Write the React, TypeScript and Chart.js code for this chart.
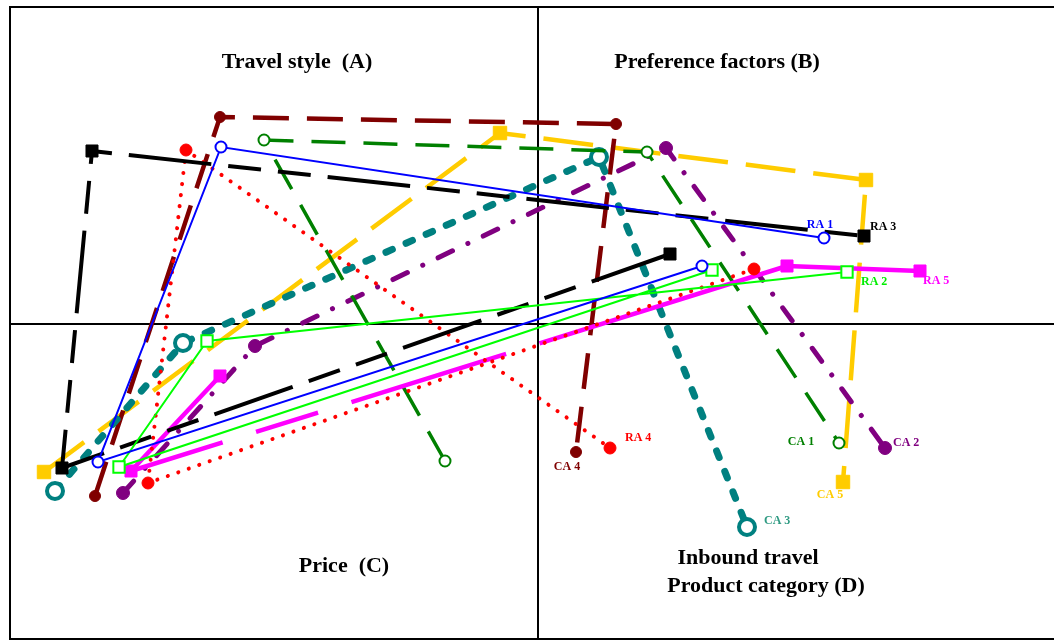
import React, { useEffect, useRef } from "react";
import { Chart, registerables } from "chart.js";

Chart.register(...registerables);

// ---- data (dimension scores) ----
const ra1X = [1.64, -4.4, -3.17, 2.86];
const ra1Y = [0.58, -1.38, 1.77, 0.86];
const ra2X = [1.74, -4.19, -3.31, 3.09];
const ra2Y = [0.54, -1.43, -0.17, 0.52];
const ra3X = [1.32, -4.76, -4.46, 3.26];
const ra3Y = [0.7, -1.44, 1.73, 0.88];
const ra4X = [2.16, -3.9, -3.52, 0.72];
const ra4Y = [0.55, -1.59, 1.74, -1.24];
const ra5X = [-3.18, -4.07, 2.49, 3.82];
const ra5Y = [-0.52, -1.47, 0.58, 0.53];
const ca1X = [-0.93, -2.74, 1.09, 3.01];
const ca1Y = [-1.37, 1.84, 1.72, -1.19];
const ca2X = [-4.15, -2.83, 1.28, 3.47];
const ca2Y = [-1.69, -0.22, 1.76, -1.24];
const ca3X = [-4.83, -3.55, 0.61, 2.09];
const ca3Y = [-1.67, -0.19, 1.67, -2.03];
const ca4X = [-4.43, -3.18, 0.78, 0.38];
const ca4Y = [-1.72, 2.07, 2.0, -1.28];
const ca5X = [-4.94, -0.38, 3.28, 3.05];
const ca5Y = [-1.48, 1.91, 1.44, -1.58];

const seriesNames = ["RA 1", "RA 2", "RA 3", "RA 4", "RA 5", "CA 1", "CA 2", "CA 3", "CA 4", "CA 5"];

const quadrantTitles = ["Travel style  (A)", "Preference factors (B)", "Price  (C)", "Inbound travel", "Product category (D)"];
const quadrantX = [-2.41, 1.79, -1.94, 2.1, 2.28];
const quadrantY = [2.62, 2.62, -2.42, -2.34, -2.62];

// ---- styles ----
type Style = {
  color: string;
  width: number;
  dash: number[];
  cap: CanvasLineCap;
  point: "circle" | "rect";
  radius: number;
  open: boolean;
  pbw: number;
  lx: number;
  ly: number;
  align: CanvasTextAlign;
};

const styles: Style[] = [
  { color: "#0000FF", width: 2, dash: [], cap: "butt", point: "circle", radius: 5.5, open: true, pbw: 2, lx: -4, ly: -13, align: "center" },
  { color: "#00FF00", width: 2, dash: [], cap: "butt", point: "rect", radius: 8, open: true, pbw: 2, lx: 14, ly: 10, align: "left" },
  { color: "#000000", width: 4, dash: [83, 17, 33, 17, 33, 17], cap: "butt", point: "rect", radius: 8.5, open: false, pbw: 1, lx: 6, ly: -9, align: "left" },
  { color: "#FF0000", width: 4, dash: [0.1, 11], cap: "round", point: "circle", radius: 6, open: false, pbw: 1, lx: 15, ly: -10, align: "left" },
  { color: "#FF00FF", width: 4.5, dash: [], cap: "butt", point: "rect", radius: 8.5, open: false, pbw: 1, lx: 3, ly: 10, align: "left" },
  { color: "#008000", width: 3.5, dash: [34, 18], cap: "butt", point: "circle", radius: 5.5, open: true, pbw: 2, lx: -38, ly: -1, align: "center" },
  { color: "#800080", width: 5, dash: [16, 17, 0.1, 17], cap: "round", point: "circle", radius: 6.5, open: false, pbw: 1, lx: 8, ly: -5, align: "left" },
  { color: "#008080", width: 7, dash: [7, 15], cap: "round", point: "circle", radius: 8, open: true, pbw: 4, lx: 17, ly: -6, align: "left" },
  { color: "#800000", width: 4.5, dash: [36, 18], cap: "butt", point: "circle", radius: 5.5, open: false, pbw: 1, lx: -9, ly: 15, align: "center" },
  { color: "#FFCC00", width: 4.5, dash: [50, 18], cap: "butt", point: "rect", radius: 9.5, open: false, pbw: 1, lx: -13, ly: 13, align: "center" },
];

const labelColors = ["#0000FF", "#00EE00", "#000000", "#FF0000", "#FF00FF", "#008000", "#800080", "#2E9A82", "#800000", "#FFCC00"];

const allX = [ra1X, ra2X, ra3X, ra4X, ra5X, ca1X, ca2X, ca3X, ca4X, ca5X];
const allY = [ra1Y, ra2Y, ra3Y, ra4Y, ra5Y, ca1Y, ca2Y, ca3Y, ca4Y, ca5Y];

const ra5SegmentDash = [96, 35, 65, 35, 162, 35, 2000];

export default function App() {
  const ref = useRef<HTMLCanvasElement | null>(null);

  useEffect(() => {
    document.body.style.margin = "0";
    const canvas = ref.current;
    if (!canvas) return;

    const datasets = seriesNames.map((name, i) => {
      const s = styles[i];
      const ds: any = {
        label: name,
        data: allX[i].map((x, k) => ({ x, y: allY[i][k] })),
        showLine: true,
        fill: false,
        tension: 0,
        clip: false,
        borderColor: s.color,
        borderWidth: s.width,
        borderDash: s.dash,
        borderCapStyle: s.cap,
        borderJoinStyle: "miter",
        pointStyle: s.point,
        pointRadius: s.radius,
        pointBackgroundColor: s.open ? "#FFFFFF" : s.color,
        pointBorderColor: s.color,
        pointBorderWidth: s.pbw,
        pointHoverRadius: s.radius,
      };
      if (name === "RA 5") {
        ds.segment = {
          borderDash: (ctx: any) => (ctx.p0DataIndex === 1 ? ra5SegmentDash : undefined),
        };
      }
      return ds;
    });

    const framePlugin = {
      id: "frameAndText",
      beforeDatasetsDraw(chart: any) {
        const { ctx, chartArea, scales } = chart;
        ctx.save();
        ctx.strokeStyle = "#000000";
        ctx.lineWidth = 2;
        ctx.strokeRect(chartArea.left, chartArea.top, chartArea.right - chartArea.left + 4, chartArea.bottom - chartArea.top);
        const x0 = Math.round(scales.x.getPixelForValue(0));
        const y0 = Math.round(scales.y.getPixelForValue(0));
        ctx.beginPath();
        ctx.moveTo(x0, chartArea.top);
        ctx.lineTo(x0, chartArea.bottom);
        ctx.moveTo(chartArea.left, y0);
        ctx.lineTo(chartArea.right, y0);
        ctx.stroke();
        ctx.restore();
      },
      afterDatasetsDraw(chart: any) {
        const { ctx, scales } = chart;
        ctx.save();
        ctx.textBaseline = "middle";
        ctx.font = "bold 22px 'Liberation Serif', 'Times New Roman', serif";
        ctx.fillStyle = "#000000";
        ctx.textAlign = "center";
        quadrantTitles.forEach((t, i) => {
          ctx.fillText(t, scales.x.getPixelForValue(quadrantX[i]), scales.y.getPixelForValue(quadrantY[i]));
        });
        ctx.font = "bold 12px 'Liberation Serif', 'Times New Roman', serif";
        seriesNames.forEach((name, i) => {
          const meta = chart.getDatasetMeta(i);
          const last = meta.data[meta.data.length - 1];
          const s = styles[i];
          ctx.fillStyle = labelColors[i];
          ctx.textAlign = s.align;
          ctx.fillText(name, last.x + s.lx, last.y + s.ly);
        });
        ctx.restore();
      },
    };

    const chart = new Chart(canvas, {
      type: "scatter",
      data: { datasets },
      options: {
        responsive: false,
        maintainAspectRatio: false,
        animation: false,
        events: [],
        layout: { autoPadding: false, padding: { left: 10, top: 7, right: 0, bottom: 1 } },
        scales: {
          x: { type: "linear", min: -5.28, max: 5.16, display: false },
          y: { type: "linear", min: -3.15, max: 3.17, display: false },
        },
        plugins: {
          legend: { display: false },
          tooltip: { enabled: false },
        },
      } as any,
      plugins: [framePlugin],
    });

    return () => chart.destroy();
  }, []);

  return (
    <div style={{ width: 1054, height: 640, background: "#FFFFFF" }}>
      <canvas ref={ref} width={1054} height={640} style={{ display: "block" }} />
    </div>
  );
}
